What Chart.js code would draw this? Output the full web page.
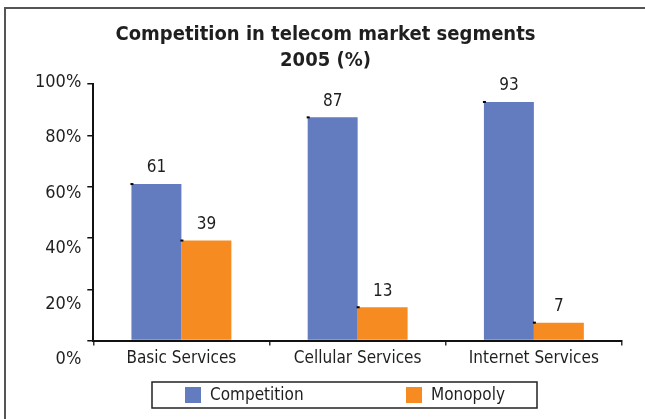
<!DOCTYPE html>
<html>
<head>
<meta charset="utf-8">
<script src="https://cdn.jsdelivr.net/npm/chart.js@4.4.0/dist/chart.umd.min.js"></script>
<style>
  html, body { margin: 0; padding: 0; background: #fff; }
  #wrap { width: 645px; height: 419px; position: relative; }
</style>
</head>
<body>
<div id="wrap"><canvas id="myChart"></canvas></div>
<script>
const categories = ["Basic Services", "Cellular Services", "Internet Services"];
const competition = [61, 87, 93];
const monopoly = [39, 13, 7];
const seriesNames = ["Competition", "Monopoly"];
const yTicks = [0, 20, 40, 60, 80, 100];
const titleLines = ["Competition in telecom market segments", "2005 (%)"];

const FONT = "'DejaVu Sans Condensed', 'DejaVu Sans', sans-serif";
const TEXT = "#1f1f1f";
const BLUE = "#637bbf";
const ORANGE = "#f68c21";

const ctx = document.querySelector("#myChart");

Chart.defaults.font.family = FONT;
Chart.defaults.color = TEXT;

// thin frame on the top and left edges
const frame = {
  id: "frame",
  beforeDraw(chart) {
    const c = chart.ctx;
    c.save();
    c.strokeStyle = "#555";
    c.lineWidth = 2;
    c.beginPath();
    c.moveTo(5, chart.height);
    c.lineTo(5, 8);
    c.lineTo(chart.width, 8);
    c.stroke();
    c.restore();
  }
};

// value above each bar plus the little corner mark
const barLabels = {
  id: "barLabels",
  afterDatasetsDraw(chart) {
    const c = chart.ctx;
    c.save();
    c.font = "17px " + FONT;
    c.textAlign = "center";
    c.textBaseline = "middle";
    chart.data.datasets.forEach((ds, i) => {
      chart.getDatasetMeta(i).data.forEach((bar, j) => {
        c.fillStyle = TEXT;
        c.fillText(ds.data[j], bar.x, bar.y - 16);
        c.fillStyle = "#000";
        c.fillRect(bar.x - bar.width / 2 - 1, bar.y - 1, 3, 2);
      });
    });
    c.restore();
  }
};

// boxed legend under the axis
const boxLegend = {
  id: "boxLegend",
  afterDraw(chart) {
    const c = chart.ctx;
    const left = 152, top = 382, w = 385, h = 26;
    const itemX = [left + 33, left + 254];
    c.save();
    c.strokeStyle = "#222";
    c.lineWidth = 1.5;
    c.strokeRect(left, top, w, h);
    c.font = "17px " + FONT;
    c.textBaseline = "middle";
    chart.data.datasets.forEach((ds, i) => {
      c.fillStyle = ds.backgroundColor;
      c.fillRect(itemX[i], top + 5, 16, 16);
      c.fillStyle = TEXT;
      c.fillText(ds.label, itemX[i] + 25, top + h / 2 + 1);
    });
    c.restore();
  }
};

new Chart(ctx, {
  type: "bar",
  data: {
    labels: categories,
    datasets: [
      { label: seriesNames[0], data: competition, backgroundColor: BLUE },
      { label: seriesNames[1], data: monopoly, backgroundColor: ORANGE }
    ]
  },
  options: {
    responsive: true,
    maintainAspectRatio: false,
    animation: false,
    categoryPercentage: 0.567,
    barPercentage: 1,
    layout: { padding: { top: 22, left: 29, right: 23, bottom: 47 } },
    plugins: {
      legend: { display: false },
      tooltip: { enabled: false },
      title: {
        display: true,
        text: titleLines,
        color: TEXT,
        font: { size: 20, weight: "bold", lineHeight: 1.3 },
        padding: { top: 0, bottom: 10 }
      }
    },
    scales: {
      x: {
        grid: { drawOnChartArea: false, offset: true, tickLength: 5, color: "#333", lineWidth: 1.5 },
        border: { color: "#111", width: 2 },
        ticks: { color: TEXT, font: { size: 17 }, padding: 3 }
      },
      y: {
        min: 0,
        max: 100,
        ticks: { display: false, stepSize: 20 },
        grid: { drawOnChartArea: false, tickLength: 6, color: "#111", lineWidth: 1.5 },
        border: { color: "#111", width: 2 }
      },
      // label column runs on a slightly taller spacing than the tick marks
      yLabels: {
        position: "left",
        weight: 1,
        min: 6.83,
        max: 99.28,
        grid: { display: false, drawTicks: false },
        border: { display: false },
        afterBuildTicks: (scale) => { scale.ticks = yTicks.map(v => ({ value: v })); },
        ticks: { autoSkip: false, padding: 6, color: TEXT, font: { size: 18 }, callback: (v) => v + "%" }
      }
    }
  },
  plugins: [frame, barLabels, boxLegend]
});
</script>
</body>
</html>
